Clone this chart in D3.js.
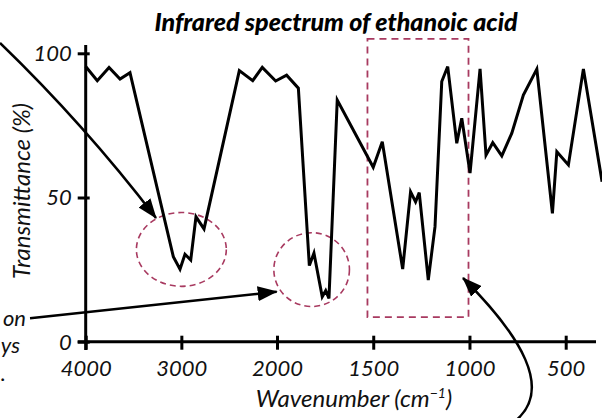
<!DOCTYPE html>
<html>
<head>
<meta charset="utf-8">
<script src="https://cdn.jsdelivr.net/npm/d3@7"></script>
<style>
  html, body { margin: 0; padding: 0; background: #fff; }
  svg { display: block; }
  text { font-family: Lato, "Open Sans", sans-serif; }
</style>
</head>
<body>
<svg id="chart" width="602" height="418"></svg>
<script>
// ---- data ----
const wavenumbers = [4000, 3879, 3756, 3641, 3537, 3084, 3014, 2962, 2902, 2847, 2763,
  2394, 2254, 2154, 2014, 1950, 1889, 1832, 1808, 1765, 1747, 1730, 1687,
  1500, 1453, 1347, 1306, 1280, 1261, 1214, 1179, 1144, 1113, 1066, 1040, 997,
  945, 914, 879, 832, 780, 720, 650, 569, 546, 486, 408, 311];
const transmittance = [95.4, 90.5, 95.1, 91.1, 93.3, 29.5, 25.1, 30.3, 28.3, 43.3, 39.1,
  94.0, 90.5, 95.1, 90.4, 92.4, 87.9, 26.4, 30.7, 15.6, 17.7, 15.0, 83.8,
  60.5, 69.3, 25.2, 52.0, 48.5, 51.7, 21.4, 39.9, 90.2, 95.4, 68.8, 77.5, 58.5,
  94.6, 64.7, 69.0, 64.4, 72.3, 85.5, 94.5, 44.5, 65.9, 61.3, 94.6, 55.5];
const xTicks = [4000, 3000, 2000, 1500, 1000, 500];
const yTicks = [0, 50, 100];
const title = "Infrared spectrum of ethanoic acid";
const yLabel = "Transmittance (%)";
const xLabelMain = "Wavenumber (cm";
const xLabelSup = "−1";
// highlighted regions (wavenumber / transmittance)
const ellipses = [
  { cx: 3000, cy: 32, rxWn: 470, ryT: 12.8 },
  { cx: 1820, cy: 25, rxWn: 213, ryT: 12.8 }
];
const boxRegion = { x0: 1530, x1: 1005, y0: 105, y1: 8.5 };
// visible tails of margin notes
const sideNotes = ["on", "ys", "."];

// ---- scales ----
const x = d3.scaleLinear().domain([4000, 2000, 500]).range([85.7, 277, 565.7]);
const y = d3.scaleLinear().domain([0, 100]).range([341.7, 53.3]);

const svg = d3.select("#chart");
const maroon = "#a83a60";

// arrow marker
const defs = svg.append("defs");
defs.append("marker")
  .attr("id", "head").attr("markerUnits", "userSpaceOnUse")
  .attr("markerWidth", 20).attr("markerHeight", 15)
  .attr("refX", 19).attr("refY", 7.5).attr("orient", "auto")
  .append("path").attr("d", "M0,0 L20,7.5 L0,15 Z").attr("fill", "#000");

// title
svg.append("text")
  .attr("x", 336).attr("y", 31)
  .attr("text-anchor", "middle")
  .attr("font-size", 25).attr("font-weight", 900).attr("font-style", "italic")
  .text(title);

// highlight shapes
svg.selectAll("ellipse.hl").data(ellipses).enter().append("ellipse")
  .attr("class", "hl")
  .attr("cx", d => x(d.cx)).attr("cy", d => y(d.cy))
  .attr("rx", d => Math.abs(x(d.cx + d.rxWn) - x(d.cx)))
  .attr("ry", d => Math.abs(y(d.cy + d.ryT) - y(d.cy)))
  .attr("fill", "none").attr("stroke", maroon).attr("stroke-width", 1.6)
  .attr("stroke-dasharray", "6,4");

svg.append("rect")
  .attr("x", x(boxRegion.x0)).attr("y", y(boxRegion.y0))
  .attr("width", x(boxRegion.x1) - x(boxRegion.x0))
  .attr("height", y(boxRegion.y1) - y(boxRegion.y0))
  .attr("fill", "none").attr("stroke", maroon).attr("stroke-width", 1.8)
  .attr("stroke-dasharray", "7,5");

// axes
const labelStyle = sel => sel
  .attr("font-size", 22).attr("font-style", "italic").attr("font-weight", 400)
  .attr("fill", "#111").attr("font-family", "Lato, sans-serif");

const xAxisG = svg.append("g").attr("transform", `translate(0,${y(0)})`)
  .call(d3.axisBottom(x).tickValues(xTicks).tickFormat(d3.format("d")).tickSizeOuter(0));
xAxisG.select(".domain").remove();
xAxisG.selectAll(".tick line").attr("y1", -6).attr("y2", 8).attr("stroke", "#000").attr("stroke-width", 3);
xAxisG.selectAll(".tick text").attr("y", 34).attr("dy", 0).call(labelStyle);
xAxisG.append("line").attr("x1", 77.7).attr("x2", 596).attr("y1", 0).attr("y2", 0)
  .attr("stroke", "#000").attr("stroke-width", 3);

const yAxisG = svg.append("g").attr("transform", `translate(${x(4000)},0)`)
  .call(d3.axisLeft(y).tickValues(yTicks).tickSizeOuter(0));
yAxisG.select(".domain").remove();
yAxisG.selectAll(".tick line").attr("x1", -8).attr("x2", 4).attr("stroke", "#000").attr("stroke-width", 3);
yAxisG.selectAll(".tick text").attr("x", -14).attr("dy", "0.34em").call(labelStyle);
yAxisG.append("line").attr("x1", 0).attr("x2", 0).attr("y1", 45).attr("y2", 350)
  .attr("stroke", "#000").attr("stroke-width", 3);

// axis labels
svg.append("text")
  .attr("transform", "translate(30,191) rotate(-90)")
  .attr("text-anchor", "middle")
  .attr("font-size", 24).attr("font-style", "italic").attr("font-weight", 400)
  .attr("fill", "#111")
  .text(yLabel);

const xl = svg.append("text")
  .attr("x", 354).attr("y", 407)
  .attr("text-anchor", "middle")
  .attr("font-size", 24).attr("font-style", "italic").attr("font-weight", 400)
  .attr("fill", "#111");
xl.append("tspan").text(xLabelMain);
xl.append("tspan").attr("font-size", 14).attr("dy", -9).text(xLabelSup);
xl.append("tspan").attr("dy", 9).text(")");

// spectrum line
const line = d3.line().x((d, i) => x(wavenumbers[i])).y(d => y(d));
svg.append("path")
  .datum(transmittance)
  .attr("d", line)
  .attr("fill", "none").attr("stroke", "#000").attr("stroke-width", 3)
  .attr("stroke-linejoin", "miter");

// side notes (tails visible at the left edge)
const noteYs = [326, 353, 381];
const noteXs = [26, 20, 6];
svg.selectAll("text.note").data(sideNotes).enter().append("text")
  .attr("class", "note")
  .attr("x", (d, i) => noteXs[i]).attr("y", (d, i) => noteYs[i])
  .attr("text-anchor", "end")
  .attr("font-size", 22).attr("font-style", "italic").attr("font-weight", 400)
  .attr("fill", "#111")
  .text(d => d);

// arrows
svg.append("path").attr("d", "M0,43 Q84,124 156,218")
  .attr("fill", "none").attr("stroke", "#000").attr("stroke-width", 2.5)
  .attr("marker-end", "url(#head)");
svg.append("path").attr("d", "M30,318.3 L276.7,291.7")
  .attr("fill", "none").attr("stroke", "#000").attr("stroke-width", 2.5)
  .attr("marker-end", "url(#head)");
svg.append("path").attr("d", "M514,422 C555,390 520,335 463,278")
  .attr("fill", "none").attr("stroke", "#000").attr("stroke-width", 2.5)
  .attr("marker-end", "url(#head)");
</script>
</body>
</html>
